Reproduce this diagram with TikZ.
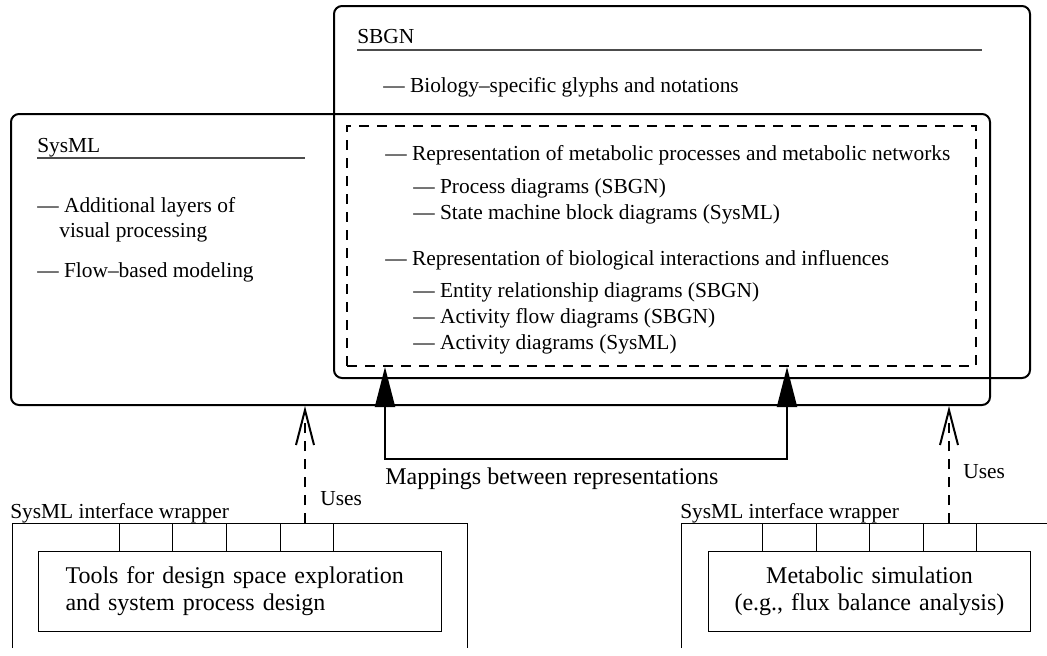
\documentclass[tikz,border=0pt]{standalone}
\usepackage{fontspec}
\setmainfont{Liberation Serif}
\usetikzlibrary{arrows.meta, positioning}

\begin{document}
\begin{tikzpicture}[
            x = 1pt, y = -1pt, % pixel grid, y grows downwards
            > = {Triangle[length=40pt, width=20pt]}, % filled mapping heads
            every node/.style = {font=\fontsize{21.4pt}{26pt}\selectfont, inner sep=0pt},
            semithick % line style
        ]

        \tikzstyle{langframe}=[
            draw,
            line width = 2pt,
            rounded corners = 8pt,
            anchor = north west
        ]
        \tikzstyle{region}=[draw, line width=2pt, dash pattern=on 10pt off 8pt, anchor=north west]
        \tikzstyle{item}=[anchor=base west]
        \tikzstyle{titlerule}=[draw=black!70, line width=1.5pt]
        \tikzstyle{wrapper}=[line width=1pt]
        \tikzstyle{toolbox}=[draw, line width=1pt, anchor=north west, minimum height=80pt,
            font=\fontsize{24pt}{27pt}\selectfont]
        \tikzstyle{uses}=[line width=2pt, dash pattern=on 10pt off 8pt,
            -{Straight Barb[length=35pt, width=18pt]}]

	\useasboundingbox (0,0) rectangle (1047,656);

	% language frames
	\node[langframe, minimum width=696pt, minimum height=372pt] (sbgn) at (333,5) {};
	\node[langframe, minimum width=979pt, minimum height=291pt] (sysml) at (10,113) {};
	\node[region, minimum width=629pt, minimum height=240pt] (shared) at (346,125) {};

	% SBGN
	\node[item] (sbgnT) at (357,43) {SBGN};
	\draw[titlerule] (357,50) -- (982,50);
	\node[item] (bio) at (383,92) {--- Biology--specific glyphs and notations};

	% SysML
	\node[item] (sysmlT) at (37,152) {SysML};
	\draw[titlerule] (37,158) -- (305,158);
	\node[item] (layers) at (37,212) {--- Additional layers of};
	\node[item] (visual) at (59,237) {visual processing};
	\node[item] (flow) at (37,277) {--- Flow--based modeling};

	% shared representations
	\node[item] (metab) at (385,160) {--- Representation of metabolic processes and metabolic networks};
	\node[item] (procd) at (413,193) {--- Process diagrams (SBGN)};
	\node[item] (stated) at (413,219) {--- State machine block diagrams (SysML)};
	\node[item] (inter) at (385,265) {--- Representation of biological interactions and influences};
	\node[item] (entd) at (413,297) {--- Entity relationship diagrams (SBGN)};
	\node[item] (flowd) at (413,323) {--- Activity flow diagrams (SBGN)};
	\node[item] (actd) at (413,349) {--- Activity diagrams (SysML)};

	% mappings
	\coordinate (mapL) at (shared.south -| 385,0);
	\coordinate (mapR) at (shared.south -| 787,0);
	\draw[<->, line width=2pt] (mapL) -- ++(0,92) -| (mapR);
	\node[item, font=\fontsize{24pt}{27pt}\selectfont] (mapT) at (385,484) {Mappings between representations};

	% interface wrappers
	\node[item] (wrapLT) at (10,518) {SysML interface wrapper};
	\node[item] (wrapRT) at (680,518) {SysML interface wrapper};
	\coordinate (wrapL) at (12,523);
	\coordinate (wrapR) at (681,523);
	\draw[wrapper] (wrapL) ++(0,125) |- ++(455,-125) -- ++(0,125);
	\draw[wrapper] (wrapR) ++(0,125) |- ++(366,-125);

	\node[toolbox, minimum width=403pt, text width=349pt, inner xsep=27pt, align=left] (tools) at (38,551)
	    {Tools for design space exploration\\and system process design};
	\node[toolbox, minimum width=322pt, text width=322pt, align=center] (sim) at (708,551)
	    {Metabolic simulation\\(e.g., flux balance analysis)};

	\foreach \x in {119,172,226,280,333}
	    \draw[wrapper] (tools.north -| \x,0) -- (wrapL -| \x,0);
	\foreach \x in {762,816,869,923,976}
	    \draw[wrapper] (sim.north -| \x,0) -- (wrapR -| \x,0);

	% uses
	\draw[uses] (wrapL -| 305,0) -- (sysml.south -| 305,0);
	\draw[uses] (wrapR -| 949,0) -- (sysml.south -| 949,0);
	\node[item] (usesL) at (320,505) {Uses};
	\node[item] (usesR) at (963,478) {Uses};

    \end{tikzpicture}
\end{document}
